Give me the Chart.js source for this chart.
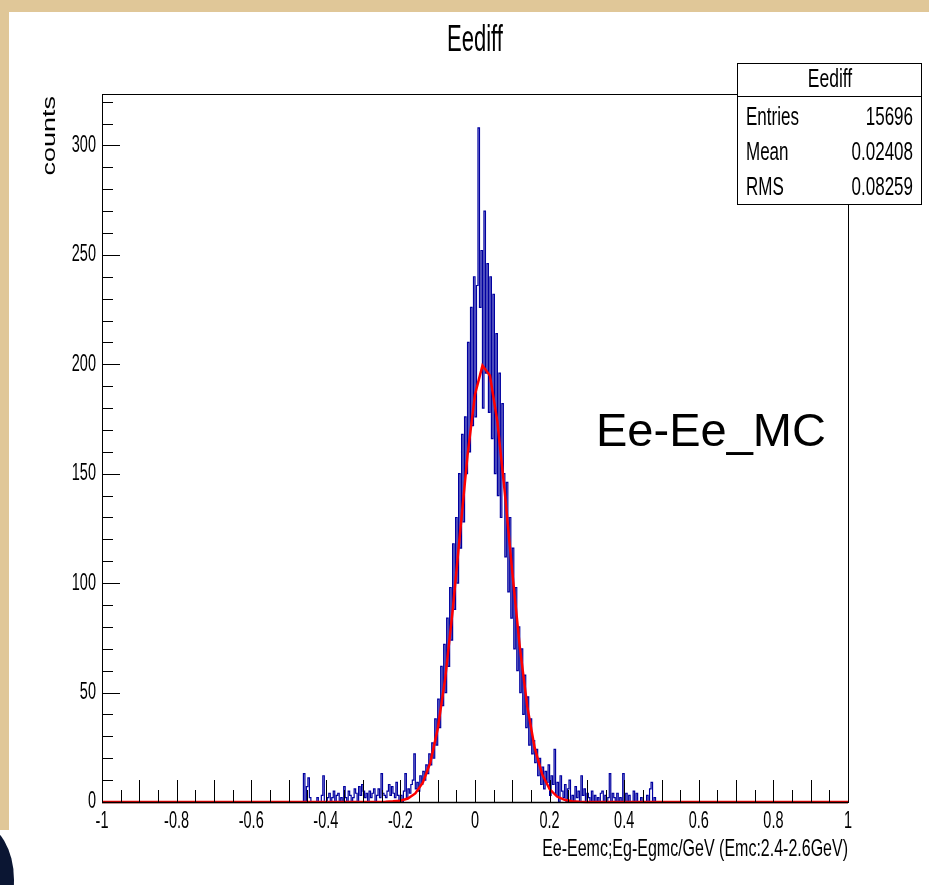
<!DOCTYPE html>
<html>
<head>
<meta charset="utf-8">
<script src="https://cdn.jsdelivr.net/npm/chart.js@4.4.1/dist/chart.umd.min.js"></script>
<style>
  html, body { margin: 0; padding: 0; background: #fff; }
  canvas { display: block; }
</style>
</head>
<body>
<canvas id="grafico" width="929" height="885"></canvas>
<script>
// histogram bins: lower edge of first bin and bin width
const histStart = -0.48;
const binWidth = 0.004;

// counts per bin (-0.48 .. -0.2)
const leftTailCounts = [
    0, 0, 0, 0, 0, 0, 13, 0, 7, 11,
    2, 0, 0, 0, 0, 2, 0, 0, 3, 12,
    0, 0, 2, 4, 0, 2, 5, 0, 3, 4,
    0, 2, 0, 7, 2, 0, 5, 3, 0, 2,
    6, 4, 0, 7, 3, 8, 5, 2, 4, 0,
    5, 2, 4, 6, 0, 3, 6, 2, 13, 4,
    3, 2, 5, 8, 3, 7, 4, 2, 9, 3
];
// -0.2 .. 0.264
const coreCounts = [
    0, 3, 0, 5, 13, 2, 6, 4, 8, 10,
    22, 6, 9, 5, 12, 8, 14, 10, 17, 13,
    22, 17, 27, 20, 38, 26, 47, 34, 62, 44,
    72, 50, 84, 62, 98, 74, 118, 88, 130, 100,
    150, 116, 168, 128, 176, 150, 210, 160, 226, 172,
    240, 176, 236, 308, 226, 252, 180, 270, 196, 246,
    178, 240, 166, 232, 150, 214, 140, 196, 130, 182,
    150, 112, 146, 96, 130, 84, 116, 70, 98, 60,
    80, 50, 70, 40, 58, 34, 48, 26, 38, 22,
    28, 18, 24, 12, 20, 8, 16, 6, 14, 9,
    17, 3, 12, 8, 24, 3, 9, 0, 12, 5,
    2, 8, 0, 6, 10, 0
];
// 0.264 .. 0.492
const rightTailCounts = [
    3, 0, 7, 2, 5, 0, 12, 3, 6, 0,
    4, 2, 0, 5, 0, 3, 0, 2, 0, 4,
    5, 0, 3, 0, 2, 13, 0, 4, 2, 0,
    4, 0, 2, 0, 13, 0, 4, 0, 3, 0,
    0, 5, 0, 4, 0, 0, 2, 0, 0, 0,
    3, 0, 6, 9, 0, 2, 0
];

// gaussian fit (red)
const fitX = [-1, -0.24, -0.22, -0.2, -0.18, -0.16, -0.14, -0.12, -0.1, -0.08, -0.06, -0.04, -0.02,
    0, 0.02, 0.04, 0.06, 0.08, 0.1, 0.12, 0.14, 0.16, 0.18, 0.2, 0.22, 0.24, 0.26, 0.28, 0.3, 1];
const fitY = [0, 0.1, 0.3, 0.6, 1.6, 3.9, 8.8, 17.9, 33.3, 56.4, 87.3, 123.1, 158.5,
    186.2, 199.4, 194.9, 173.8, 141.3, 104.9, 71.0, 43.8, 24.7, 12.7, 5.9, 2.5, 1.0, 0.35, 0.1, 0, 0];

const xTickValues = [-1, -0.8, -0.6, -0.4, -0.2, 0, 0.2, 0.4, 0.6, 0.8, 1];
const xTickLabels = ["-1", "-0.8", "-0.6", "-0.4", "-0.2", "0", "0.2", "0.4", "0.6", "0.8", "1"];
const yTickValues = [0, 50, 100, 150, 200, 250, 300];
const yTickLabels = ["0", "50", "100", "150", "200", "250", "300"];

const statsTitle = "Eediff";
const statsLabels = ["Entries", "Mean", "RMS"];
const statsValues = ["15696", "0.02408", "0.08259"];

const FUENTE = '"Liberation Sans", Arial, Helvetica, sans-serif';

// build the step points of the histogram
const counts = leftTailCounts.concat(coreCounts, rightTailCounts);
const histPoints = [{ x: -1, y: 0 }];
counts.forEach((c, i) => histPoints.push({ x: histStart + i * binWidth, y: c }));
histPoints.push({ x: histStart + counts.length * binWidth, y: 0 });
histPoints.push({ x: 1, y: 0 });

const fitPoints = fitX.map((x, i) => ({ x: x, y: fitY[i] }));

// ROOT-like text: stretched vertically
function texto(ctx, str, x, y, size, stretch, align, baseline, angle) {
    ctx.save();
    ctx.translate(x, y);
    ctx.scale(1, stretch);
    if (angle) ctx.rotate(angle);
    ctx.font = size + "px " + FUENTE;
    ctx.fillStyle = "#000";
    ctx.textAlign = align;
    ctx.textBaseline = baseline;
    ctx.fillText(str, 0, 0);
    ctx.restore();
}

// background: beige border and the dark corner
const fondo = {
    id: "fondo",
    beforeDraw(chart) {
        const c = chart.ctx;
        c.save();
        c.fillStyle = "#fff";
        c.fillRect(0, 0, chart.width, chart.height);
        c.fillStyle = "rgb(224,199,152)";
        c.fillRect(0, 0, chart.width, 12);
        c.fillRect(0, 0, 9, 830);
        c.fillStyle = "#0b1633";
        c.beginPath();
        c.ellipse(-20, 880, 34, 56, 0, 0, Math.PI * 2);
        c.fill();
        c.restore();
    }
};

// frame, inward ticks, labels, stats box, titles
const marco = {
    id: "marco",
    afterDatasetsDraw(chart) {
        const c = chart.ctx;
        const a = chart.chartArea;
        const xs = chart.scales.x;
        const ys = chart.scales.y;
        c.save();

        c.strokeStyle = "#000";
        c.lineWidth = 1;
        c.strokeRect(a.left + 0.5, a.top + 0.5, a.right - a.left, a.bottom - a.top);

        // x ticks every 0.05, long on 0.1
        c.beginPath();
        for (let k = 0; k <= 40; k++) {
            const px = Math.round(xs.getPixelForValue(-1 + k * 0.05)) + 0.5;
            const len = k % 2 === 0 ? 22 : 12;
            c.moveTo(px, a.bottom);
            c.lineTo(px, a.bottom - len);
        }
        // y ticks every 10, long on 50
        for (let v = 0; v <= 320; v += 10) {
            const py = Math.round(ys.getPixelForValue(v)) + 0.5;
            const len = v % 50 === 0 ? 18 : 11;
            c.moveTo(a.left, py);
            c.lineTo(a.left + len, py);
        }
        c.stroke();

        c.lineWidth = 1.5;
        c.beginPath();
        c.moveTo(a.left, a.bottom + 0.5);
        c.lineTo(a.right, a.bottom + 0.5);
        c.stroke();

        xTickValues.forEach((v, i) => {
            texto(c, xTickLabels[i], xs.getPixelForValue(v), 822, 14.5, 1.6, "center", "middle");
        });
        yTickValues.forEach((v, i) => {
            texto(c, yTickLabels[i], 96, ys.getPixelForValue(v), 14.5, 1.6, "right", "middle");
        });

        texto(c, "Ee-Eemc;Eg-Egmc/GeV (Emc:2.4-2.6GeV)", a.right, 849, 16, 1.5, "right", "middle");
        texto(c, "counts", 50, 96, 18, 1.5, "right", "middle", -Math.PI / 2);
        texto(c, "Eediff", 475, 41, 22, 1.65, "center", "middle");

        // stats box
        c.fillStyle = "#fff";
        c.fillRect(737, 63, 185, 142);
        c.lineWidth = 1;
        c.strokeStyle = "#000";
        c.strokeRect(737.5, 63.5, 184, 141);
        c.beginPath();
        c.moveTo(737, 96.5);
        c.lineTo(922, 96.5);
        c.stroke();
        texto(c, statsTitle, 830, 80, 17.5, 1.45, "center", "middle");
        statsLabels.forEach((s, i) => {
            const yy = 118 + i * 35;
            texto(c, s, 746, yy, 17, 1.5, "left", "middle");
            texto(c, statsValues[i], 913, yy, 17, 1.5, "right", "middle");
        });

        // annotation
        c.font = "47px " + FUENTE;
        c.fillStyle = "#000";
        c.textAlign = "left";
        c.textBaseline = "alphabetic";
        c.fillText("Ee-Ee_MC", 596, 446);

        c.restore();
    }
};

const ctx = document.getElementById("grafico").getContext("2d");
new Chart(ctx, {
    type: "line",
    data: {
        datasets: [
            {
                label: "fit",
                data: fitPoints,
                borderColor: "rgb(255,0,0)",
                borderWidth: 2.5,
                pointRadius: 0,
                tension: 0,
                order: 0,
                clip: false
            },
            {
                label: "Eediff",
                data: histPoints,
                borderColor: "rgb(0,0,160)",
                borderWidth: 1.2,
                pointRadius: 0,
                stepped: "after",
                order: 1,
                clip: false
            }
        ]
    },
    options: {
        responsive: false,
        animation: false,
        events: [],
        layout: { padding: { left: 102, right: 81, top: 94, bottom: 83 } },
        plugins: { legend: { display: false }, tooltip: { enabled: false } },
        scales: {
            x: { type: "linear", min: -1, max: 1, display: false },
            y: { type: "linear", min: 0, max: 323.5, display: false }
        }
    },
    plugins: [fondo, marco]
});
</script>
</body>
</html>
